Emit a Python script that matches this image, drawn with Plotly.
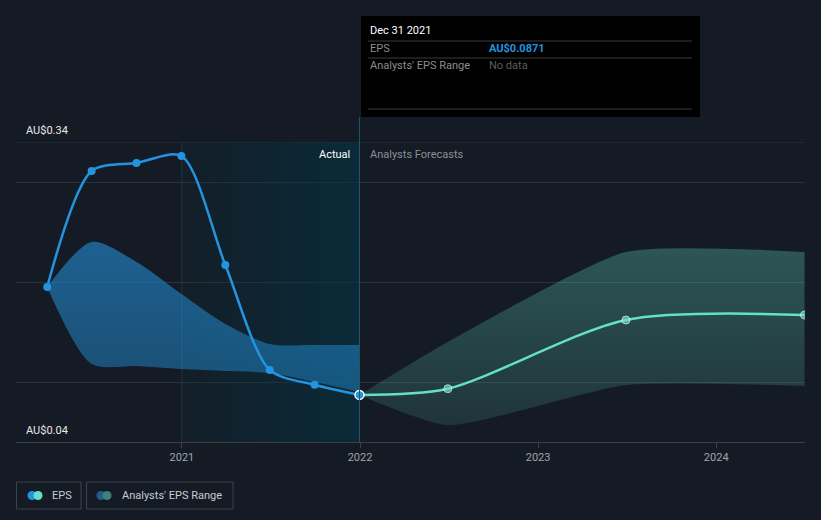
import plotly.graph_objects as go

# ---------------- data ----------------
actual_dates = ['2020-03-31', '2020-06-30', '2020-09-30', '2020-12-31',
                '2021-03-31', '2021-06-30', '2021-09-30', '2021-12-31']
actual_eps = [0.195, 0.311, 0.319, 0.326, 0.217, 0.112, 0.0973, 0.0871]
past_range_high = [0.195, 0.240, 0.220, 0.188, 0.158, 0.138, 0.137, 0.137]
past_range_low = [0.195, 0.118, 0.116, 0.113, 0.111, 0.109, 0.100, 0.090]

forecast_dates = ['2021-12-31', '2022-06-30', '2023-06-30', '2024-06-30']
forecast_eps = [0.0871, 0.0933, 0.162, 0.167]
forecast_high = [0.0871, 0.140, 0.230, 0.230]
forecast_low = [0.0871, 0.057, 0.097, 0.096]

year_ticks = ['2021-01-01', '2022-01-01', '2023-01-01', '2024-01-01']
year_labels = ['2021', '2022', '2023', '2024']
y_min, y_max = 0.04, 0.34
grid_vals = [0.1, 0.2, 0.3]
x_range = ['2020-01-27', '2024-07-01']
actual_start = '2021-01-01'

# ---------------- style ----------------
BG = '#151b24'
BLUE = '#2394df'
TEAL = '#64dfc8'
FONT = 'Roboto'
GRID = '#2c323b'
W, H = 821, 520
ML, MR, MT, MB = 16, 16, 142, 78
PW, PH = W - ML - MR, H - MT - MB


def px(x):
    return (x - ML) / PW


def py(y):
    return (H - MB - y) / PH


fig = go.Figure()

# actual region gradient
fig.add_trace(go.Scatter(
    x=[actual_start, actual_dates[-1], actual_dates[-1], actual_start, actual_start],
    y=[y_min, y_min, y_max, y_max, y_min],
    mode='lines', line=dict(width=0), fill='toself',
    fillgradient=dict(type='horizontal',
                      colorscale=[[0, 'rgba(3,52,69,0.12)'], [1, 'rgba(3,52,69,0.62)']]),
    showlegend=False, hoverinfo='skip'))

# past range band
fig.add_trace(go.Scatter(x=actual_dates, y=past_range_low, mode='lines',
                         line=dict(width=0, shape='spline', smoothing=0.8),
                         showlegend=False, hoverinfo='skip'))
fig.add_trace(go.Scatter(x=actual_dates, y=past_range_high, mode='lines',
                         line=dict(width=0, shape='spline', smoothing=0.8),
                         fill='tonexty',
                         fillgradient=dict(type='vertical',
                                           colorscale=[[0, 'rgba(35,148,223,0.42)'],
                                                       [1, 'rgba(35,148,223,0.58)']]),
                         showlegend=False, hoverinfo='skip'))

# forecast range band
fig.add_trace(go.Scatter(x=forecast_dates, y=forecast_low, mode='lines',
                         line=dict(width=0, shape='spline', smoothing=0.55),
                         showlegend=False, hoverinfo='skip'))
fig.add_trace(go.Scatter(x=forecast_dates, y=forecast_high, mode='lines',
                         line=dict(width=0, shape='spline', smoothing=0.55),
                         fill='tonexty',
                         fillgradient=dict(type='vertical',
                                           colorscale=[[0, 'rgba(100,223,200,0.13)'],
                                                       [1, 'rgba(100,223,200,0.30)']]),
                         showlegend=False, hoverinfo='skip'))

# EPS actual
fig.add_trace(go.Scatter(x=actual_dates, y=actual_eps, mode='lines+markers',
                         line=dict(color=BLUE, width=2.5, shape='spline', smoothing=0.8),
                         marker=dict(color=BLUE, size=8),
                         showlegend=False, hoverinfo='skip'))
# EPS forecast
fig.add_trace(go.Scatter(x=forecast_dates, y=forecast_eps, mode='lines+markers',
                         line=dict(color=TEAL, width=2.5, shape='spline', smoothing=0.8),
                         marker=dict(color=TEAL, size=[0] + [8] * (len(forecast_eps) - 1)),
                         showlegend=False, hoverinfo='skip'))
# highlighted point
fig.add_trace(go.Scatter(x=[actual_dates[-1]], y=[actual_eps[-1]], mode='markers',
                         marker=dict(color=BLUE, size=9, line=dict(color='white', width=1.5)),
                         showlegend=False, hoverinfo='skip'))

shapes = []
# top gridline (range edge)
shapes.append(dict(type='line', xref='paper', yref='y', x0=0, x1=1, y0=y_max, y1=y_max,
                   line=dict(color=GRID, width=1), layer='below'))
# vertical lines
shapes.append(dict(type='line', xref='x', yref='paper', x0=actual_start, x1=actual_start,
                   y0=0, y1=1, line=dict(color='#1b3a47', width=1), layer='below'))
shapes.append(dict(type='line', xref='x', yref='paper', x0=actual_dates[-1], x1=actual_dates[-1],
                   y0=0, y1=py(117), line=dict(color='#1f5566', width=1)))
# tooltip
shapes.append(dict(type='rect', xref='paper', yref='paper', x0=px(361), x1=px(700),
                   y0=py(117), y1=py(16), fillcolor='#000000', line=dict(width=0)))
for yy in (41, 58, 109):
    shapes.append(dict(type='line', xref='paper', yref='paper', x0=px(368), x1=px(692),
                       y0=py(yy), y1=py(yy), line=dict(color='#3a3a3a', width=1)))
# legend boxes
shapes.append(dict(type='rect', xref='paper', yref='paper', x0=px(16.5), x1=px(81),
                   y0=py(509), y1=py(482), line=dict(color='#3d434c', width=1)))
shapes.append(dict(type='rect', xref='paper', yref='paper', x0=px(86.5), x1=px(233),
                   y0=py(509), y1=py(482), line=dict(color='#3d434c', width=1)))
# legend icons
for cx, col in ((32, BLUE), (38, TEAL), (101, '#1f5d8a'), (107, '#3f8079')):
    shapes.append(dict(type='circle', xref='paper', yref='paper',
                       x0=px(cx - 4.5), x1=px(cx + 4.5), y0=py(495.5 + 4.5), y1=py(495.5 - 4.5),
                       fillcolor=col, line=dict(width=0)))

annotations = []


def ann(text, x, y, color, size=11, xanchor='left', bold=False):
    annotations.append(dict(text=('<b>%s</b>' % text) if bold else text,
                            xref='paper', yref='paper', x=px(x), y=py(y),
                            xanchor=xanchor, yanchor='middle', showarrow=False,
                            font=dict(family=FONT, size=size, color=color)))


ann('AU$%.2f' % y_max, 24, 130, '#e8e8e8')
ann('AU$%.2f' % y_min, 24, 430, '#e8e8e8')
ann('Actual', 352, 154, '#ffffff')
annotations[-1]['xanchor'] = 'right'
ann('Analysts Forecasts', 368, 154, '#8a8f96')
ann('Dec 31 2021', 368, 31, '#ffffff')
ann('EPS', 368, 49, '#8c8c8c')
ann('AU$%.4f' % actual_eps[-1], 487, 49, BLUE, bold=True)
ann("Analysts' EPS Range", 368, 66, '#8c8c8c')
ann('No data', 487, 66, '#5e5e5e')
ann('EPS', 50, 495.5, '#c8ccd2')
ann("Analysts' EPS Range", 120, 495.5, '#c8ccd2')

fig.update_layout(
    width=W, height=H,
    margin=dict(l=ML, r=MR, t=MT, b=MB),
    paper_bgcolor=BG, plot_bgcolor=BG,
    hovermode=False, showlegend=False,
    shapes=shapes, annotations=annotations,
    font=dict(family=FONT, color='#a0a4aa', size=11),
    xaxis=dict(type='date', range=x_range, tickvals=year_ticks, ticktext=year_labels,
               showgrid=False, zeroline=False, showline=True, linecolor='#3a3f48',
               ticks='outside', ticklen=5, tickcolor='#3a3f48',
               tickfont=dict(family=FONT, size=11, color='#a0a4aa')),
    yaxis=dict(range=[y_min, y_max], tickvals=grid_vals,
               showticklabels=False, gridcolor=GRID, gridwidth=1,
               zeroline=False, showline=False),
)

fig.write_html('out.html')
